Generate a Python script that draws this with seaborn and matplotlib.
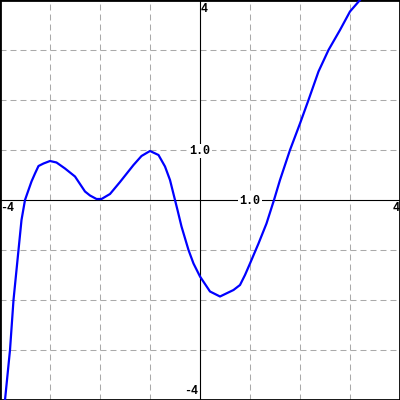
import numpy as np
import pandas as pd
import matplotlib
matplotlib.use('Agg')
import matplotlib.pyplot as plt
import seaborn as sns

# points
x_vals = [-3.93, -3.9, -3.8, -3.73, -3.63, -3.57, -3.5, -3.43, -3.37, -3.3, -3.23, -3.13,
          -3.0, -2.87, -2.7, -2.5, -2.3, -2.2, -2.07, -1.97, -1.8, -1.6,
          -1.33, -1.17, -1.0, -0.83, -0.7, -0.6, -0.5, -0.45, -0.37, -0.23, -0.13, 0.0,
          0.2, 0.4, 0.67, 0.8, 0.9, 1.0, 1.17, 1.33, 1.48, 1.6, 1.8, 2.0, 2.17, 2.37,
          2.57, 2.8, 3.0, 3.2, 3.3]
y_vals = [-4.4, -4.0, -3.0, -2.0, -1.0, -0.4, 0.0, 0.2, 0.37, 0.53, 0.68, 0.73,
          0.78, 0.75, 0.63, 0.47, 0.17, 0.09, 0.02, 0.02, 0.12, 0.36,
          0.7, 0.88, 0.98, 0.9, 0.67, 0.4, 0.0, -0.2, -0.53, -1.0, -1.27, -1.53,
          -1.83, -1.93, -1.8, -1.7, -1.5, -1.27, -0.87, -0.47, 0.0, 0.4, 1.0, 1.53, 2.0, 2.57,
          3.0, 3.4, 3.77, 4.0, 4.12]
grid_pos = [-3, -2, -1, 1, 2, 3]

df = pd.DataFrame({'x': x_vals, 'y': y_vals})

sns.set_style('white')
plt.rcParams['lines.scale_dashes'] = False
plt.rcParams['font.family'] = ['Liberation Mono', 'DejaVu Sans Mono']

fig = plt.figure(figsize=(4, 4), dpi=100)
ax = fig.add_axes([0, 0, 1, 1])
ax.set_xlim(-4, 4)
ax.set_ylim(-4, 4)

# dashed grid
for g in grid_pos:
    ax.axvline(g, color='#aaaaaa', lw=0.75, dashes=(4.3, 2.9), zorder=1)
    ax.axhline(g, color='#aaaaaa', lw=0.75, dashes=(4.3, 2.9), zorder=1)

# axes through the origin
ax.axhline(0, color='black', lw=0.8, zorder=2)
ax.axvline(0, color='black', lw=0.8, zorder=2)

sns.lineplot(data=df, x='x', y='y', color='#0000ff', lw=1.6, estimator=None,
             sort=False, ax=ax, zorder=4)

txt = dict(fontsize=8.5, fontweight='bold', color='black', zorder=5)
ax.text(-3.99, -0.04, '-4', ha='left', va='top', **txt)
ax.text(3.99, -0.04, '4', ha='right', va='top', **txt)
ax.text(0.02, 3.95, '4', ha='left', va='top', **txt)
ax.text(-0.04, -3.93, '-4', ha='right', va='bottom', **txt)
box = dict(facecolor='white', edgecolor='none', pad=1)
ax.text(0, 0.98, '1.0', ha='center', va='center', bbox=box, **txt)
ax.text(1.0, -0.02, '1.0', ha='center', va='center', bbox=box, **txt)

ax.set_xticks([])
ax.set_yticks([])
ax.set_xlabel('')
ax.set_ylabel('')
for s in ax.spines.values():
    s.set_visible(True)
    s.set_color('black')
    s.set_linewidth(2)

fig.savefig('out.png', dpi=100)
